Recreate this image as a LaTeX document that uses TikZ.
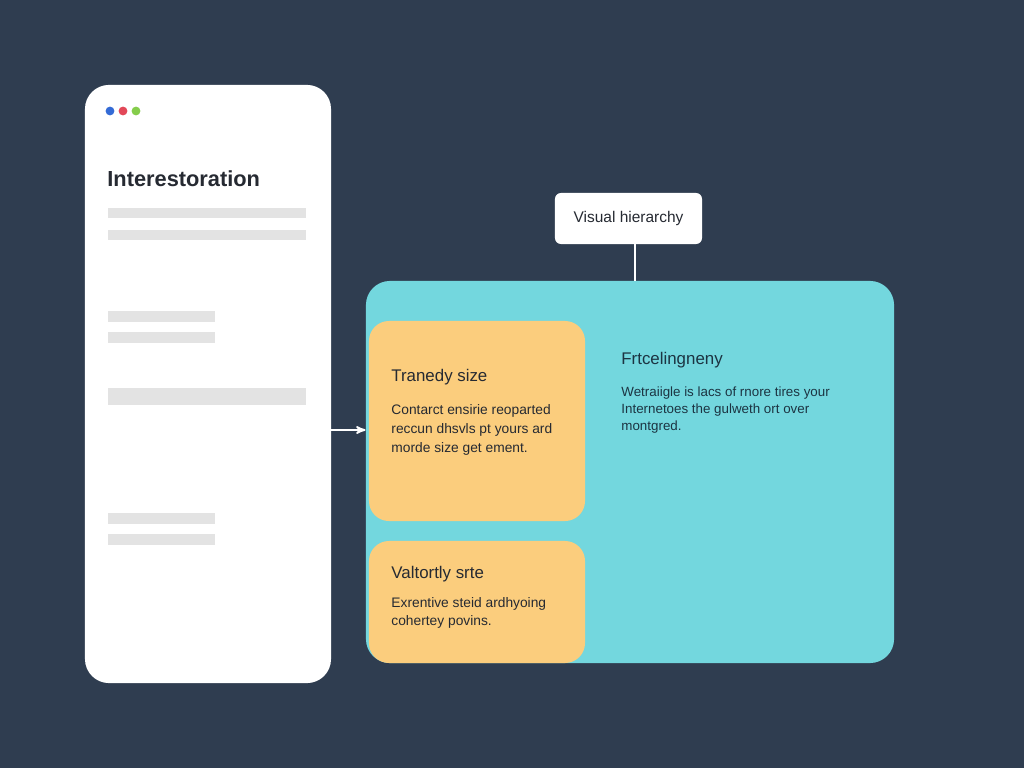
\documentclass[tikz,border=0pt]{standalone}
\usepackage{fontspec}
\setmainfont{Liberation Sans}
\usetikzlibrary{arrows,positioning}

\definecolor{bg}{RGB}{47,61,80}
\definecolor{panelc}{RGB}{115,215,222}
\definecolor{boxo}{RGB}{251,205,125}
\definecolor{barg}{RGB}{227,227,227}
\definecolor{dotb}{RGB}{52,107,214}
\definecolor{dotr}{RGB}{226,72,88}
\definecolor{dotg}{RGB}{133,205,75}
\definecolor{ink}{RGB}{38,42,50}
\definecolor{inkc}{RGB}{28,52,66}

\begin{document}
\begin{tikzpicture}[x=0.025cm,y=-0.025cm,>=stealth',semithick]
  \tikzstyle{card}=[rounded corners=0.6cm,inner sep=0pt]
  \tikzstyle{bar}=[fill=barg]
  \tikzstyle{head}=[anchor=base west,inner sep=0pt,font=\fontsize{12}{14}\selectfont]
  \tikzstyle{body}=[anchor=base west,inner sep=0pt,align=left,font=\fontsize{9.8}{12.2}\selectfont]

  \useasboundingbox (0,0) rectangle (1024,768);
  \fill[bg] (0,0) rectangle (1024,768);

  % left page
  \node[card,fill=white,minimum width=6.15cm,minimum height=14.95cm] (C) at (208,384) {};
  \foreach \x/\c in {110/dotb,123/dotr,136/dotg}
    \fill[\c] (\x,111) circle (0.11cm);
  \node[anchor=base west,inner sep=0pt,text=ink,font=\fontsize{15.5}{18}\selectfont\bfseries]
    (T) at (107,186) {Interestoration};
  \foreach \t/\b/\r in {208/218/306,230/240/306,311/322/215,332/343/215,388/405/306,513/524/215,534/545/215}
    \fill[bar] (108,\t) rectangle (\r,\b);

  % right panel
  \node[card,fill=panelc,minimum width=13.2cm,minimum height=9.55cm] (P) at (630,472) {};
  \node[rounded corners=0.15cm,fill=white,minimum width=3.675cm,minimum height=1.275cm,
    text=ink,font=\fontsize{11}{13}\selectfont] (L) at (628.5,218.5) {Visual hierarchy};
  \node[card,rounded corners=0.5cm,fill=boxo,minimum width=5.4cm,minimum height=5cm] (A) at (477,421) {};
  \node[card,rounded corners=0.5cm,fill=boxo,minimum width=5.4cm,minimum height=3.05cm] (B) at (477,602) {};

  % texts (multi-line bodies sit on their last baseline)
  \node[head,text=ink] (Ah) at (391,381) {Tranedy size};
  \node[body,text=ink,font=\fontsize{9.8}{13.5}\selectfont] (Ab) at (391,452)
    {Contarct ensirie reoparted\\reccun dhsvls pt yours ard\\morde size get ement.};
  \node[head,text=ink] (Bh) at (391,578) {Valtortly srte};
  \node[body,text=ink] (Bb) at (391,625)
    {Exrentive steid ardhyoing\\cohertey povins.};
  \node[head,text=inkc] (Ph) at (621,364) {Frtcelingneny};
  \node[body,text=inkc,font=\fontsize{9.5}{11.8}\selectfont] (Pb) at (621,430)
    {Wetraiigle is lacs of rnore tires your\\Internetoes the gulweth ort over\\montgred.};

  % connectors
  \coordinate (a) at (348,430);
  \draw[->,white,line width=1.3pt] (a -| C.east) -- (a -| P.west);
  \draw[white,line width=1.3pt] ([xshift=0.16cm]L.south) -- ([xshift=0.16cm]L.south |- P.north);
\end{tikzpicture}
\end{document}
